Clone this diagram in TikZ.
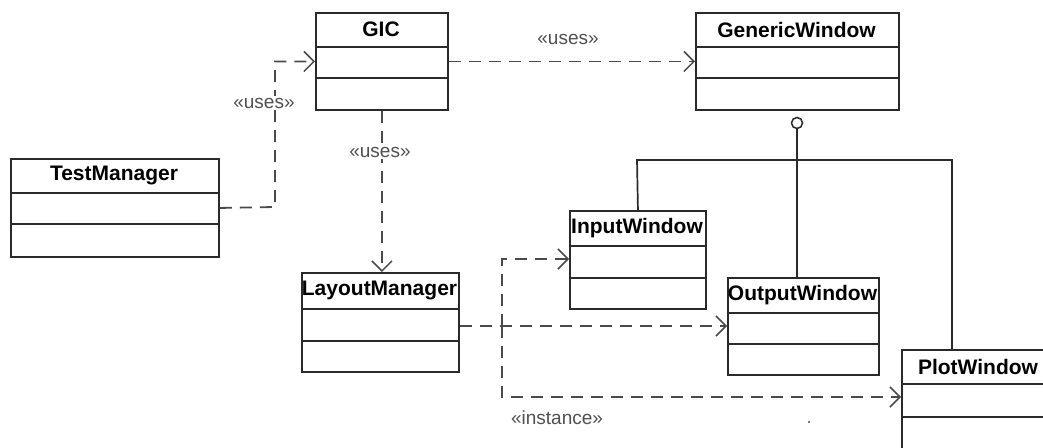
\documentclass[tikz,border=0pt]{standalone}
\usepackage{fontspec}
\setmainfont{Liberation Sans}
\usetikzlibrary{arrows.meta,calc}

\definecolor{boxc}{HTML}{2A2A2A}
\definecolor{linec}{HTML}{4A4A4A}
\definecolor{labc}{HTML}{505050}

\tikzset{
  clsbox/.style={draw=boxc, line width=1.9pt, fill=white, inner sep=0pt, rectangle},
  clsline/.style={draw=boxc, line width=1.7pt},
  clstitle/.style={font=\fontsize{21}{23}\selectfont\bfseries, text=black, inner sep=0pt},
  depline/.style={draw=linec, line width=1.8pt, dash pattern=on 12pt off 8pt},
  dep/.style={depline, -{Straight Barb[length=10pt,width=20pt,line width=1.5pt]}},
  stereo/.style={font=\fontsize{19}{21}\selectfont, text=labc, fill=white, inner sep=1.5pt},
  genline/.style={draw=boxc, line width=1.7pt},
}

% #1 name, #2 left, #3 top, #4 right, #5 bottom, #6 first separator, #7 second separator, #8 title
\newcommand\umlclass[8]{%
  \pgfmathsetmacro\clsw{#4-#2}%
  \pgfmathsetmacro\clsh{#5-#3}%
  \node[clsbox, anchor=north west, minimum width=\clsw pt, minimum height=\clsh pt] (#1) at (#2,#3) {};
  \draw[clsline] (#2,#6) -- (#4,#6);
  \draw[clsline] (#2,#7) -- (#4,#7);
  \node[clstitle] (#1-title) at ({(#2+#4)/2},{(#3+#6)/2}) {#8};
}

\begin{document}
\begin{tikzpicture}[x=1pt, y=-1pt]
  \useasboundingbox (0,0) rectangle (1043,447);
  \clip (0,0) rectangle (1043,447);
  \fill[white] (0,0) rectangle (1043,447);

  % classes
  \umlclass{gic}{315}{12}{447}{109}{47}{78}{GIC}
  \umlclass{gw}{695}{12}{898}{109}{47}{78}{GenericWindow}
  \umlclass{tm}{10}{158}{218}{256}{193}{224}{TestManager}
  \umlclass{lm}{301}{272}{458}{371}{309}{341}{LayoutManager}
  \umlclass{iw}{569}{210}{705}{308}{246}{278}{InputWindow}
  \umlclass{ow}{727}{277}{878}{374}{313}{344}{OutputWindow}
  \umlclass{pw}{901}{349}{1055}{470}{384}{417}{PlotWindow}

  % GIC uses GenericWindow
  \draw[dep] (gic.east) -- (gw.west);
  \node[stereo, fill=none] (usesGW) at (568,39) {«uses»};

  % TestManager uses GIC
  \coordinate (tmBend) at (275,207);
  \draw[dep] (tm.east) -- (tmBend) |- (gic.west);
  \node[stereo] (usesTM) at (264,103) {«uses»};

  % GIC uses LayoutManager
  \draw[dep] (gic.south) -- (gic.south |- lm.north);
  \node[stereo] (usesLM) at (380,152) {«uses»};

  % LayoutManager instantiates the windows
  \coordinate (jn) at (502,326);
  \coordinate (jnTop) at (502,259);
  \coordinate (jnBot) at (502,397);
  \draw[dep] (lm.east |- jn) -- (ow.west |- jn);
  \draw[dep] (jn) -- (jnTop) -- (iw.west |- jnTop);
  \draw[dep] (jn) -- (jnBot) -- (pw.west |- jnBot);
  \node[stereo, fill=none] (inst) at (557,418) {«instance»};

  % GenericWindow interface realised by the three windows
  \node[circle, draw=boxc, line width=1.5pt, fill=white, minimum size=11pt, inner sep=0pt] (lolly) at (797,123) {};
  \coordinate (barL) at (637,160);
  \coordinate (barR) at (952,160);
  \draw[genline] (lolly.south) -- (lolly.south |- ow.north);
  \draw[genline] (iw.north) -- (barL) -- (barR) -- (barR |- pw.north);

  % stray mark
  \fill[linec] (809,422) circle (1.2pt);
\end{tikzpicture}
\end{document}
